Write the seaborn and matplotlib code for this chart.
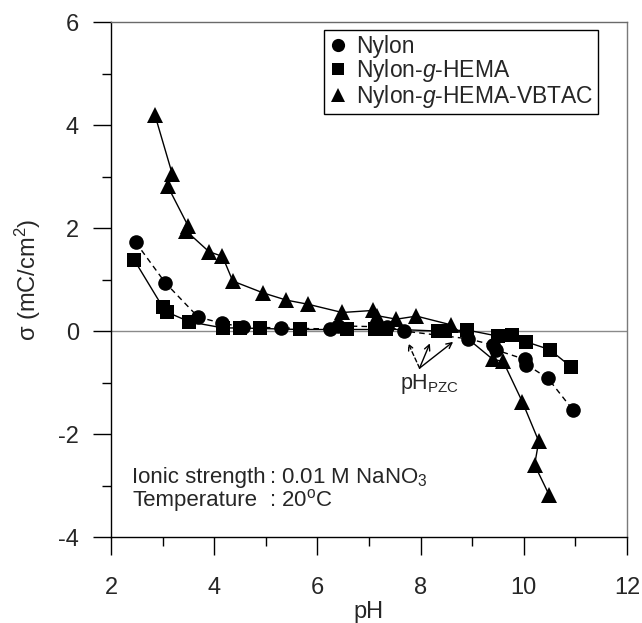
import numpy as np
import pandas as pd
import matplotlib
matplotlib.use("Agg")
import matplotlib.pyplot as plt
import seaborn as sns
from matplotlib.lines import Line2D
from matplotlib.ticker import MultipleLocator

# ---- data ----
nylon_ph = [2.48, 3.05, 3.69, 4.16, 4.55, 5.29, 6.24, 6.40, 7.35, 7.67, 8.92, 9.40, 9.47, 10.02, 10.05, 10.47, 10.95]
nylon_sigma = [1.72, 0.94, 0.27, 0.15, 0.08, 0.06, 0.04, 0.10, 0.08, 0.00, -0.15, -0.27, -0.37, -0.55, -0.65, -0.92, -1.53]

hema_ph = [2.45, 3.00, 3.08, 3.52, 4.17, 4.50, 4.88, 5.66, 6.58, 7.11, 7.32, 8.33, 8.47, 8.90, 9.50, 9.78, 10.05, 10.50, 10.91]
hema_sigma = [1.38, 0.47, 0.37, 0.18, 0.06, 0.06, 0.05, 0.03, 0.03, 0.03, 0.04, 0.00, 0.00, 0.02, -0.10, -0.08, -0.21, -0.36, -0.69]

vbtac_ph = [2.85, 3.19, 3.10, 3.50, 3.45, 3.90, 4.16, 4.36, 4.95, 5.40, 5.82, 6.48, 7.08, 7.15, 7.53, 7.92, 8.59, 9.40, 9.60, 9.97, 10.29, 10.21, 10.49]
vbtac_sigma = [4.20, 3.04, 2.81, 2.03, 1.95, 1.54, 1.45, 0.97, 0.74, 0.60, 0.52, 0.36, 0.40, 0.30, 0.23, 0.29, 0.12, -0.55, -0.59, -1.37, -2.14, -2.60, -3.18]

series_labels = ["Nylon", "Nylon-$\\mathit{g}$-HEMA", "Nylon-$\\mathit{g}$-HEMA-VBTAC"]
x_ticks = [2, 4, 6, 8, 10, 12]
y_ticks = [-4, -2, 0, 2, 4, 6]

# ---- style ----
sns.set_style("ticks")
plt.rcParams['font.family'] = ['Liberation Sans', 'DejaVu Sans']
plt.rcParams['mathtext.fontset'] = 'custom'
plt.rcParams['mathtext.rm'] = 'Liberation Sans'
plt.rcParams['mathtext.it'] = 'Liberation Sans:italic'
plt.rcParams['mathtext.bf'] = 'Liberation Sans:bold'
plt.rcParams['mathtext.sf'] = 'Liberation Sans'

FS = 17
fig = plt.figure(figsize=(6.42, 6.23), dpi=100)
ax = fig.add_axes([0.1729, 0.1380, 0.8037, 0.8266])

ax.axhline(0, color='#8a8a8a', lw=1.0, zorder=1)

sns.lineplot(x=nylon_ph, y=nylon_sigma, sort=False, estimator=None, ax=ax,
             color='black', lw=1.0, linestyle=(0, (4, 3)), marker='o',
             markersize=10.5, markeredgewidth=0, zorder=3)
sns.lineplot(x=hema_ph, y=hema_sigma, sort=False, estimator=None, ax=ax,
             color='black', lw=1.0, marker='s',
             markersize=9.5, markeredgewidth=0, zorder=3)
sns.lineplot(x=vbtac_ph, y=vbtac_sigma, sort=False, estimator=None, ax=ax,
             color='black', lw=1.0, marker='^',
             markersize=11.5, markeredgewidth=0, zorder=3)

ax.set_xlim(2, 12)
ax.set_ylim(-4, 6)
ax.set_xticks(x_ticks)
ax.set_yticks(y_ticks)
ax.set_xticklabels([str(t) for t in x_ticks])
ax.set_yticklabels([str(t) for t in y_ticks])
ax.xaxis.set_minor_locator(MultipleLocator(1))
ax.yaxis.set_minor_locator(MultipleLocator(1))
ax.tick_params(which='major', length=13, width=1, direction='out', labelsize=FS, color='black')
ax.tick_params(axis='x', which='major', pad=16)
ax.tick_params(axis='y', which='major', pad=10)
ax.tick_params(which='minor', length=6.5, width=1, direction='out', color='black')
ax.tick_params(top=False, right=False, which='both')

for s in ['left', 'bottom']:
    ax.spines[s].set_color('black')
    ax.spines[s].set_linewidth(1.0)
ax.spines['top'].set_color('#6a6a6a')
ax.spines['top'].set_linewidth(1.0)
ax.spines['right'].set_color('#7a7a7a')
ax.spines['right'].set_linewidth(1.0)
ax.spines['right'].set_linestyle((0, (2, 1)))

ax.set_xlabel("pH", fontsize=FS, labelpad=1)
ax.set_ylabel("\u03c3 (mC/cm$^2$)", fontsize=FS, labelpad=11)

handles = [Line2D([], [], marker='o', color='black', ls='none', markersize=9.5, markeredgewidth=0),
           Line2D([], [], marker='s', color='black', ls='none', markersize=8.5, markeredgewidth=0),
           Line2D([], [], marker='^', color='black', ls='none', markersize=10, markeredgewidth=0)]
leg = ax.legend(handles, series_labels, loc='upper right', bbox_to_anchor=(0.944, 0.984),
                borderaxespad=0, fontsize=16.5, frameon=True, fancybox=False,
                edgecolor='black', framealpha=1, labelspacing=-0.05,
                handletextpad=0.4, borderpad=0.2, handlelength=0.8)
leg.get_frame().set_linewidth(1.0)

# annotations
TFS = 16
ax.text(2.41, -2.95, "Ionic strength", fontsize=TFS, va='baseline', ha='left')
ax.text(5.06, -2.95, ": 0.01 M NaNO$_3$", fontsize=TFS, va='baseline', ha='left')
ax.text(2.41, -3.40, "Temperature", fontsize=TFS, va='baseline', ha='left')
ax.text(5.06, -3.40, ": 20$^{\\mathrm{o}}$C", fontsize=TFS, va='baseline', ha='left')

ax.text(7.6, -1.02, "pH$_{\\mathrm{PZC}}$", fontsize=15.5, va='center', ha='left')
origin = (7.98, -0.72)
ax.annotate("", xy=(7.76, -0.24), xytext=origin,
            arrowprops=dict(arrowstyle='->', lw=1.0, color='black', linestyle=(0, (3, 2)),
                            shrinkA=0, shrinkB=0))
ax.annotate("", xy=(8.18, -0.24), xytext=origin,
            arrowprops=dict(arrowstyle='->', lw=1.0, color='black', shrinkA=0, shrinkB=0))
ax.annotate("", xy=(8.63, -0.21), xytext=origin,
            arrowprops=dict(arrowstyle='->', lw=1.0, color='black', shrinkA=0, shrinkB=0))

fig.savefig("out.png", dpi=100)
